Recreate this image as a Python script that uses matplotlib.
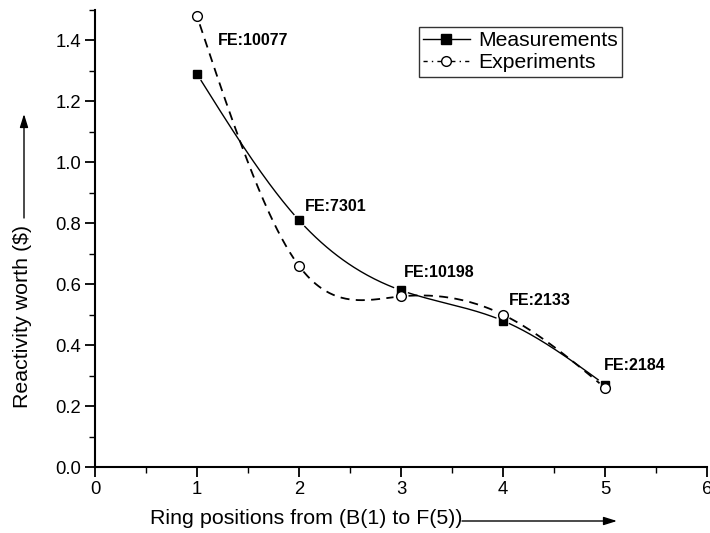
import numpy as np
import matplotlib
matplotlib.use('Agg')
import matplotlib.pyplot as plt

# ring positions and reactivity worth values ($)
positions = [1, 2, 3, 4, 5]
measurements = [1.29, 0.81, 0.58, 0.48, 0.27]
experiments = [1.48, 0.66, 0.56, 0.50, 0.26]
fe_labels = ['FE:10077', 'FE:7301', 'FE:10198', 'FE:2133', 'FE:2184']
label_x = [1.2, 2.06, 3.03, 4.06, 4.99]
label_y = [1.40, 0.855, 0.64, 0.546, 0.332]


def natural_spline(x, y, n=300):
    # natural cubic spline through the points (like Origin's spline connect)
    x = np.asarray(x, float)
    y = np.asarray(y, float)
    k = len(x)
    h = np.diff(x)
    A = np.zeros((k, k))
    b = np.zeros(k)
    A[0, 0] = A[-1, -1] = 1
    for i in range(1, k - 1):
        A[i, i - 1] = h[i - 1]
        A[i, i] = 2 * (h[i - 1] + h[i])
        A[i, i + 1] = h[i]
        b[i] = 6 * ((y[i + 1] - y[i]) / h[i] - (y[i] - y[i - 1]) / h[i - 1])
    m = np.linalg.solve(A, b)
    xs = np.linspace(x[0], x[-1], n)
    idx = np.clip(np.searchsorted(x, xs) - 1, 0, k - 2)
    x0, x1 = x[idx], x[idx + 1]
    hh = x1 - x0
    t0, t1 = x1 - xs, xs - x0
    ys = (m[idx] * t0**3 / (6 * hh) + m[idx + 1] * t1**3 / (6 * hh)
          + (y[idx] / hh - m[idx] * hh / 6) * t0
          + (y[idx + 1] / hh - m[idx + 1] * hh / 6) * t1)
    return xs, ys


def gapped(ax, xs, ys, px, py, r=7):
    # leave small gaps around the markers
    pts = ax.transData.transform(np.column_stack([xs, ys]))
    mk = ax.transData.transform(np.column_stack([px, py]))
    d = np.min(np.hypot(pts[:, None, 0] - mk[None, :, 0],
                        pts[:, None, 1] - mk[None, :, 1]), axis=1)
    ys = np.where(d < r, np.nan, ys)
    return xs, ys


plt.rcParams['font.family'] = ['Liberation Sans', 'DejaVu Sans']

fig = plt.figure(figsize=(7.1, 5.33), dpi=100)
ax = fig.add_axes([0.1338, 0.1238, 0.862, 0.8574])
ax.set_xlim(0, 6)
ax.set_ylim(0, 1.5)

xs, ys = natural_spline(positions, measurements)
xs, ys = gapped(ax, xs, ys, positions, measurements)
ax.plot(xs, ys, color='black', lw=1.0)
xs, ys = natural_spline(positions, experiments)
xs, ys = gapped(ax, xs, ys, positions, experiments)
ax.plot(xs, ys, color='black', lw=1.3, linestyle=(0, (5, 3.5)))

ax.plot(positions, measurements, 's', color='black', ms=6)
ax.plot(positions, experiments, 'o', mfc='white', mec='black', ms=7, mew=1)

for t, x, y in zip(fe_labels, label_x, label_y):
    ax.text(x, y, t, fontsize=11.5, fontweight='bold', va='center', ha='left')

# legend handles
h1, = ax.plot([], [], '-s', color='black', ms=7, lw=1.0)
h2, = ax.plot([], [], linestyle=(0, (3, 3, 1, 3)), marker='o', color='black',
              mfc='white', ms=7, lw=1.0)
leg = ax.legend([h1, h2], ['Measurements', 'Experiments'], loc='upper right',
                bbox_to_anchor=(0.861, 0.963), fontsize=15.2, frameon=True,
                fancybox=False, edgecolor='black', handlelength=2.2,
                handletextpad=0.4, borderpad=0.2, labelspacing=0.15,
                borderaxespad=0)
leg.get_frame().set_linewidth(1.0)

for s in ['top', 'right']:
    ax.spines[s].set_visible(False)
for s in ['left', 'bottom']:
    ax.spines[s].set_linewidth(1.5)

ax.set_xticks(range(0, 7))
ax.set_xticks(np.arange(0.5, 6, 1), minor=True)
ax.set_yticks(np.arange(0, 1.41, 0.2))
ax.set_yticks(np.arange(0.1, 1.51, 0.2), minor=True)
ax.yaxis.set_major_formatter(matplotlib.ticker.FormatStrFormatter('%.1f'))
ax.tick_params(which='major', direction='out', length=7, width=1.3,
               labelsize=13.3, pad=3)
ax.tick_params(which='minor', direction='out', length=4, width=1.0)

# axis titles with arrows
fig.text(150 / 710, 1 - 524 / 533, 'Ring positions from (B(1) to F(5))',
         fontsize=15.4, ha='left', va='baseline')
fig.add_artist(matplotlib.patches.FancyArrowPatch(
    (462 / 710, 1 - 521 / 533), (617 / 710, 1 - 521 / 533),
    transform=fig.transFigure, arrowstyle='-|>,head_length=0.8,head_width=0.25',
    mutation_scale=10, color='black', lw=1.0, shrinkA=0, shrinkB=0))
fig.text(23 / 710, 1 - 316 / 533, 'Reactivity worth ($)', fontsize=15.4,
         rotation=90, ha='center', va='center')
fig.add_artist(matplotlib.patches.FancyArrowPatch(
    (24 / 710, 1 - 218 / 533), (24 / 710, 1 - 114 / 533),
    transform=fig.transFigure, arrowstyle='-|>,head_length=0.8,head_width=0.25',
    mutation_scale=10, color='black', lw=1.0, shrinkA=0, shrinkB=0))

fig.savefig('out.png', dpi=100)
